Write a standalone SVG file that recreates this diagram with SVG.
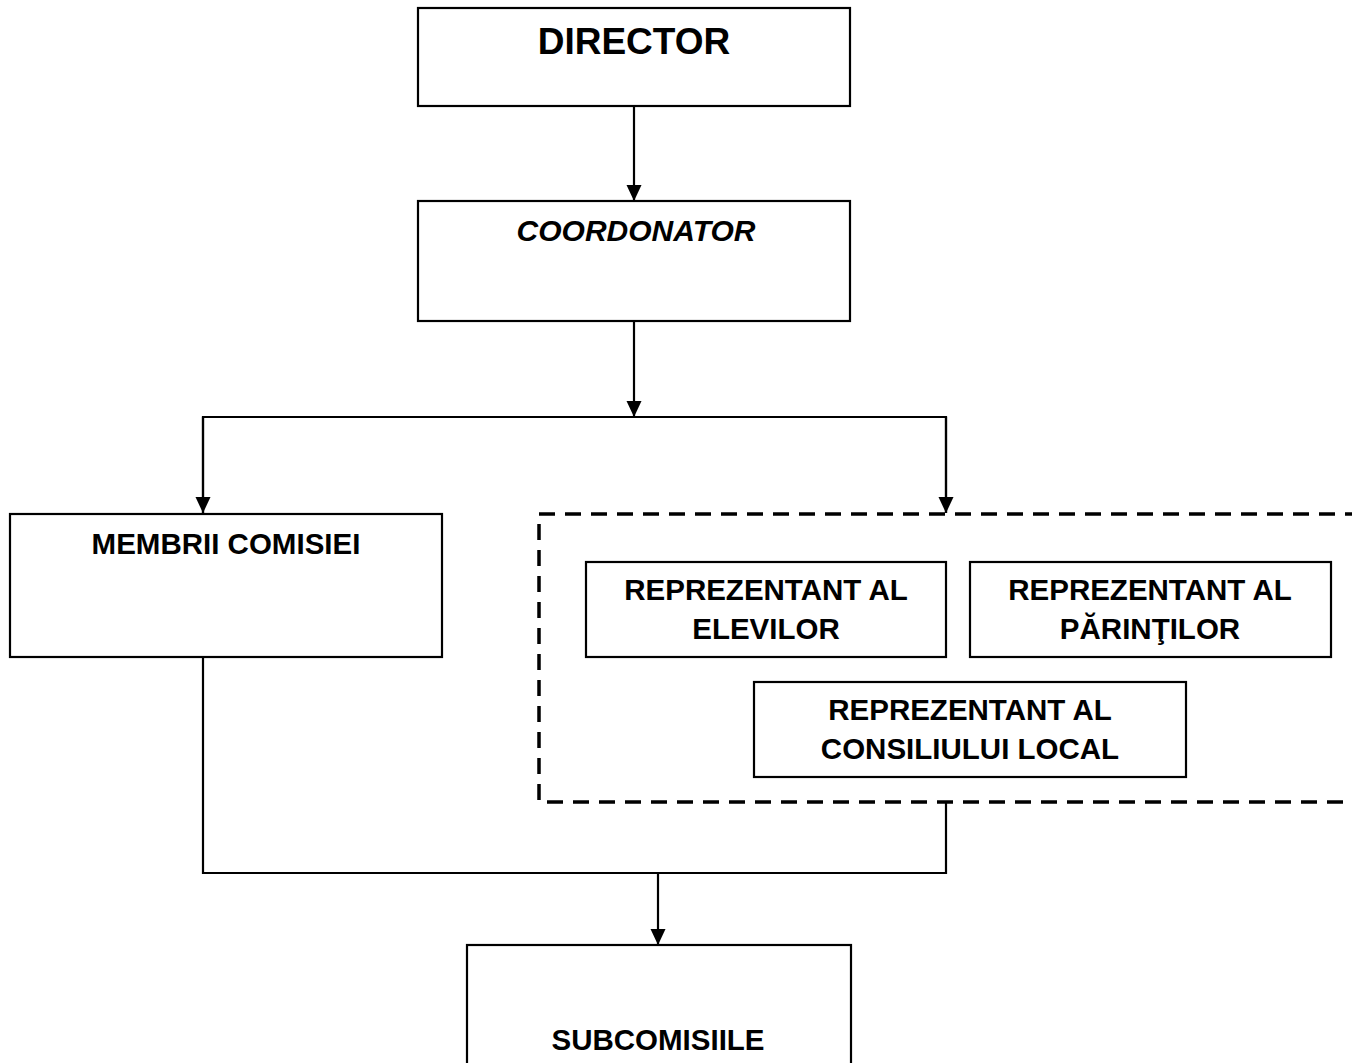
<svg xmlns="http://www.w3.org/2000/svg" width="1352" height="1063" viewBox="0 0 1352 1063">
<style>
.box{fill:#fff;stroke:#000;stroke-width:2.2}
.t{font-family:"Liberation Sans",Arial,sans-serif;font-weight:bold;font-size:29.5px;fill:#000;text-anchor:middle}
.ln{fill:none;stroke:#000;stroke-width:2.2}
.dash{fill:none;stroke:#000;stroke-width:3.5;stroke-dasharray:16 10}
</style>
<defs>
<marker id="ah" viewBox="0 0 16 16" refX="16" refY="8" markerWidth="16" markerHeight="16" markerUnits="userSpaceOnUse" orient="auto">
<path d="M0,0.5 L16,8 L0,15.5 Z" fill="#000"/>
</marker>
</defs>
<rect width="1352" height="1063" fill="#fff"/>
<g id="connectors">
<line class="ln" x1="634" y1="106" x2="634" y2="201" marker-end="url(#ah)"/>
<line class="ln" x1="634" y1="321" x2="634" y2="417" marker-end="url(#ah)"/>
<polyline class="ln" points="203,513 203,417 946,417 946,513"/>
<line class="ln" x1="203" y1="417" x2="203" y2="513" marker-end="url(#ah)"/>
<line class="ln" x1="946" y1="417" x2="946" y2="513" marker-end="url(#ah)"/>
<polyline class="ln" points="203,657 203,873 946,873 946,802"/>
<line class="ln" x1="658" y1="873" x2="658" y2="945" marker-end="url(#ah)"/>
</g>
<g id="director">
<rect class="box" x="418" y="8" width="432" height="98"/>
<text class="t" x="634" y="54" style="font-size:37px">DIRECTOR</text>
</g>
<g id="coordonator">
<rect class="box" x="418" y="201" width="432" height="120"/>
<text class="t" x="636" y="241" style="font-style:italic;font-size:30px">COORDONATOR</text>
</g>
<g id="membrii">
<rect class="box" x="10" y="514" width="432" height="143"/>
<text class="t" x="226" y="554">MEMBRII COMISIEI</text>
</g>
<g id="reprezentanti">
<rect class="dash" x="539" y="514" width="830" height="288"/>
</g>
<g id="elevi">
<rect class="box" x="586" y="562" width="360" height="95"/>
<text class="t" x="766" y="600">REPREZENTANT AL</text>
<text class="t" x="766" y="639">ELEVILOR</text>
</g>
<g id="parinti">
<rect class="box" x="970" y="562" width="361" height="95"/>
<text class="t" x="1150" y="600">REPREZENTANT AL</text>
<text class="t" x="1150" y="639">PĂRINŢILOR</text>
</g>
<g id="consiliu">
<rect class="box" x="754" y="682" width="432" height="95"/>
<text class="t" x="970" y="720">REPREZENTANT AL</text>
<text class="t" x="970" y="759">CONSILIULUI LOCAL</text>
</g>
<g id="subcomisii">
<rect class="box" x="467" y="945" width="384" height="130"/>
<text class="t" x="658" y="1050">SUBCOMISIILE</text>
</g>
</svg>
